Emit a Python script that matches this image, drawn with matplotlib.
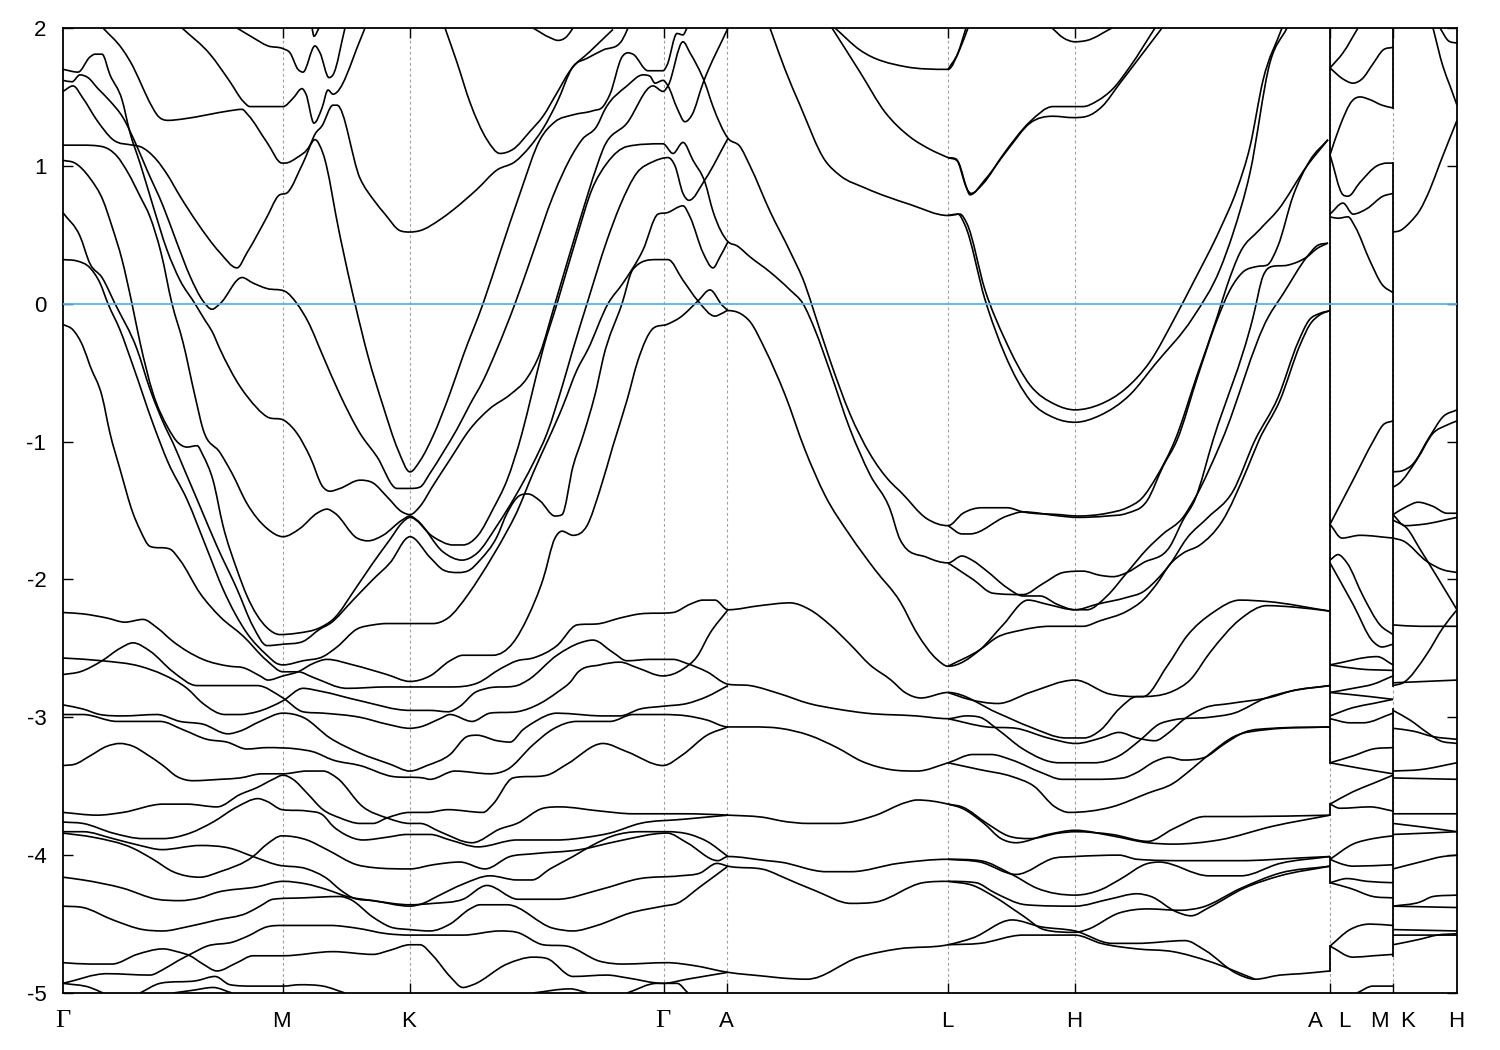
import matplotlib
matplotlib.use('Agg')
import matplotlib.pyplot as plt
from matplotlib.path import Path
from matplotlib.patches import PathPatch
from matplotlib.transforms import blended_transform_factory

# band energies (eV) as (k distance, energy)
# upper bands, gamma -> M -> K -> gamma -> A
b_top1 = [(40,2.0),(59,1.85),(67,1.76),(89,1.43),(94,1.37),(105,1.33),(120,1.34),(144,1.37),(167,1.40),(179,1.41),(185,1.37),(204,1.17),(219,1.02),(222,1.02),(234,1.06),(247,1.15),(252,1.23),(259,1.29),(270,1.44),(274,1.44),(297,0.91),(312,0.74),(322,0.65),(337,0.53),(347,0.52),(357,0.53),(377,0.61),(390,0.68),(414,0.83),(434,0.97),(452,1.03),(467,1.14),(480,1.27),(494,1.46),(510,1.72),(524,1.78),(540,1.84),(559,1.91),(565,2.0)]
b_top2 = [(119,2.0),(147,1.81),(167,1.61),(180,1.47),(187,1.43),(220,1.43),(230,1.49),(239,1.56),(243,1.52),(251,1.31),(259,1.42),(265,1.55),(270,1.52),(297,1.91),(302,2.0)]
b_top3 = [(174,2.0),(190,1.93),(205,1.87),(220,1.85),(227,1.82),(235,1.70),(240,1.68),(252,1.87),(257,1.82),(266,1.64),(270,1.66),(282,2.0)]
b_top4 = [(249,2.0),(251,1.94),(256,2.0)]
b_top5 = [(382,2.0),(394,1.75),(407,1.46),(424,1.19),(437,1.09),(450,1.12),(467,1.25),(480,1.36),(494,1.53),(507,1.69),(527,1.83),(550,1.99)]
b_top6 = [(470,2.0),(487,1.93),(495,1.91),(504,1.94),(510,2.0)]

b_g170 = [(0,1.70),(15,1.68),(27,1.79),(32,1.81),(39,1.81),(47,1.66),(59,1.48),(67,1.24),(77,1.02),(90,0.71),(104,0.39),(117,0.17),(132,0),(142,-0.12),(149,-0.20),(157,-0.33),(177,-0.60),(185,-0.68),(204,-0.82),(222,-0.85),(234,-0.94),(247,-1.11),(260,-1.33),(267,-1.36),(277,-1.34),(297,-1.28),(310,-1.30),(324,-1.40),(339,-1.51),(347,-1.53),(357,-1.47),(370,-1.32),(387,-1.13),(407,-0.91),(427,-0.76),(447,-0.66),(464,-0.54),(477,-0.36),(492,0),(517,0.61),(534,1.0),(540,1.12),(564,1.31),(590,1.58),(600,1.54),(605,1.58),(620,1.90),(627,1.82),(642,1.60),(650,1.43),(665,1.20),(677,1.14),(687,1.0),(707,0.67),(727,0.38),(742,0.14),(752,-0.08),(767,-0.41),(787,-0.80),(807,-1.09),(827,-1.29),(837,-1.36),(864,-1.56),(885,-1.61),(900,-1.52),(919,-1.48),(944,-1.48),(960,-1.51),(997,-1.53),(1014,-1.54),(1044,-1.52),(1064,-1.48),(1079,-1.41),(1094,-1.25),(1112,-0.99),(1134,-0.52),(1154,-0.10),(1164,0.13),(1177,0.37),(1197,0.54),(1215,0.68),(1244,1.0),(1265,1.19)]
b_g162 = [(0,1.62),(9,1.61),(17,1.66),(25,1.64),(35,1.56),(47,1.47),(60,1.35),(74,1.14),(84,0.97),(100,0.71),(114,0.44),(127,0.20),(140,0.02),(149,-0.04),(157,0),(179,0.19),(190,0.15),(204,0.11),(222,0.09),(234,0),(245,-0.13),(260,-0.38),(277,-0.66),(297,-0.94),(314,-1.11),(334,-1.34),(347,-1.34),(357,-1.33),(367,-1.23),(380,-1.08),(394,-0.91),(407,-0.73),(420,-0.56),(434,-0.33),(452,0),(470,0.37),(490,0.78),(510,1.09),(519,1.19),(534,1.29),(542,1.41),(564,1.58),(580,1.66),(587,1.65),(592,1.60),(600,1.62),(605,1.58),(614,1.42),(622,1.32),(629,1.37),(640,1.60),(665,2.0)]
b_g154 = [(0,1.54),(10,1.58),(20,1.49),(34,1.33),(50,1.19),(70,1.15),(77,1.14),(94,1.04),(104,0.94),(117,0.78),(134,0.59),(157,0.37),(174,0.26),(184,0.37),(204,0.63),(215,0.78),(225,0.81),(240,1.02),(252,1.19),(260,1.09),(277,0.49),(292,0),(305,-0.38),(320,-0.74),(335,-1.06),(347,-1.22),(357,-1.14),(370,-0.96),(387,-0.65),(400,-0.38),(420,0),(437,0.37),(457,0.80),(477,1.19),(492,1.32),(510,1.37),(530,1.40),(540,1.43),(547,1.52),(559,1.79),(565,1.82),(570,1.81),(585,1.69),(600,1.69),(604,1.73),(614,1.96),(620,1.95),(624,2.0)]
b_g115 = [(0,1.15),(19,1.15),(39,1.14),(54,1.07),(65,0.95),(77,0.78),(87,0.63),(98,0.37),(109,0),(120,-0.28),(132,-0.67),(140,-0.91),(157,-1.08),(169,-1.23),(184,-1.45),(204,-1.63),(220,-1.69),(237,-1.63),(254,-1.52),(264,-1.49),(272,-1.52),(294,-1.70),(305,-1.72),(320,-1.68),(339,-1.57),(347,-1.54),(354,-1.57),(380,-1.80),(399,-1.86),(414,-1.81),(434,-1.61),(452,-1.40),(470,-1.16),(484,-0.94),(500,-0.58),(510,-0.33),(524,0),(544,0.46),(557,0.71),(574,0.95),(590,1.03),(605,1.06),(612,1.0),(620,0.80),(626,0.75),(642,0.90),(665,1.20)]
b_g104 = [(0,1.04),(12,1.02),(27,0.91),(40,0.75),(49,0.56),(59,0.32),(69,0),(77,-0.28),(90,-0.65),(105,-0.90),(114,-1.0),(124,-1.04),(134,-1.03),(140,-1.10),(150,-1.28),(160,-1.61),(174,-1.93),(184,-2.12),(204,-2.35),(217,-2.40),(234,-2.39),(257,-2.35),(270,-2.29),(294,-2.05),(310,-1.88),(327,-1.71),(339,-1.59),(347,-1.55),(370,-1.69),(390,-1.75),(400,-1.75),(415,-1.68),(430,-1.49),(444,-1.28),(459,-0.94),(469,-0.65),(480,-0.33),(494,0),(514,0.49),(529,0.83),(544,1.02),(564,1.14),(600,1.16),(610,1.09),(620,1.17),(630,1.04),(642,0.88),(650,0.67),(665,0.45),(674,0.42),(687,0.34),(707,0.23),(727,0.10),(740,0),(752,-0.19),(767,-0.49),(787,-0.91),(807,-1.24),(827,-1.49),(837,-1.71),(864,-1.84),(885,-1.88),(899,-1.83),(909,-1.86),(924,-1.94),(944,-2.06),(960,-2.12),(977,-2.12),(994,-2.18),(1012,-2.22),(1024,-2.22),(1044,-2.12),(1064,-1.95),(1084,-1.78),(1100,-1.67),(1120,-1.55),(1132,-1.41),(1159,-0.99),(1205,-0.10),(1220,0.07),(1244,0.34),(1254,0.42),(1265,0.44)]
b_g066 = [(0,0.66),(17,0.49),(27,0.29),(39,0.19),(52,0),(74,-0.33),(87,-0.62),(102,-0.89),(110,-1.01),(120,-1.18),(137,-1.47),(154,-1.76),(174,-2.07),(190,-2.34),(204,-2.48),(220,-2.47),(240,-2.45),(257,-2.36),(267,-2.32),(290,-2.15),(310,-2.0),(327,-1.88),(347,-1.69),(367,-1.84),(380,-1.93),(395,-1.95),(407,-1.93),(417,-1.86),(434,-1.69),(444,-1.52),(457,-1.39),(465,-1.38),(477,-1.43),(492,-1.54),(499,-1.53),(510,-1.18),(520,-0.96),(534,-0.60),(540,-0.40),(559,0),(570,0.25),(594,0.32),(605,0.32),(620,0.17),(635,0.02),(652,-0.09),(659,-0.07),(665,-0.05),(677,-0.07),(687,-0.13),(702,-0.33),(722,-0.66),(742,-1.06),(762,-1.39),(787,-1.68),(812,-1.93),(837,-2.16),(854,-2.39),(874,-2.58),(885,-2.63),(917,-2.51),(940,-2.33),(965,-2.15),(984,-2.18),(1012,-2.22),(1034,-2.18),(1064,-2.13),(1080,-2.09),(1094,-2.0),(1107,-1.89),(1124,-1.70),(1145,-1.55),(1170,-1.36),(1192,-0.99),(1215,-0.68),(1235,-0.28),(1246,-0.12),(1257,-0.07),(1267,-0.05)]
b_g032 = [(0,0.32),(14,0.31),(27,0.26),(37,0.15),(45,0),(57,-0.19),(70,-0.45),(90,-0.87),(105,-1.15),(124,-1.42),(144,-1.78),(160,-2.07),(184,-2.39),(204,-2.55),(214,-2.61),(220,-2.62),(240,-2.59),(260,-2.56),(274,-2.49),(294,-2.36),(310,-2.33),(324,-2.32),(347,-2.32),(370,-2.32),(385,-2.28),(405,-2.11),(417,-1.98),(444,-1.65),(452,-1.54),(470,-1.23),(500,-0.74),(514,-0.48),(525,-0.33),(545,0),(560,0.15),(580,0.39),(595,0.65),(604,0.66),(620,0.71),(627,0.63),(640,0.37),(650,0.26),(657,0.34),(665,0.45)]
b_gm015 = [(0,-0.15),(10,-0.19),(20,-0.31),(27,-0.45),(39,-0.67),(47,-0.94),(57,-1.20),(70,-1.52),(77,-1.64),(87,-1.76),(107,-1.78),(117,-1.86),(137,-2.10),(157,-2.27),(180,-2.41),(204,-2.59),(220,-2.67),(235,-2.67),(250,-2.71),(284,-2.79),(324,-2.78),(347,-2.78),(387,-2.78),(415,-2.75),(437,-2.65),(454,-2.59),(470,-2.57),(494,-2.48),(514,-2.33),(537,-2.32),(557,-2.28),(577,-2.25),(610,-2.24),(627,-2.18),(640,-2.15),(652,-2.15),(665,-2.22),(697,-2.19),(727,-2.17),(747,-2.22),(767,-2.33),(787,-2.47),(807,-2.62),(828,-2.73),(842,-2.82),(858,-2.86),(885,-2.82),(935,-2.97),(967,-3.07),(1003,-3.15),(1021,-3.15),(1038,-3.09),(1056,-2.94),(1074,-2.85),(1080,-2.85),(1104,-2.63),(1124,-2.41),(1150,-2.24),(1177,-2.15),(1204,-2.16),(1267,-2.23)]

# lower bands, gamma -> M -> K -> gamma -> A
b_gm224 = [(0,-2.24),(20,-2.25),(44,-2.28),(62,-2.31),(80,-2.29),(94,-2.35),(110,-2.45),(124,-2.52),(140,-2.58),(167,-2.63),(180,-2.64),(197,-2.70),(205,-2.73),(220,-2.70),(235,-2.67),(250,-2.61),(264,-2.58),(290,-2.62),(324,-2.69),(347,-2.74),(367,-2.70),(387,-2.59),(400,-2.55),(430,-2.55),(450,-2.46),(465,-2.27),(480,-2.0),(492,-1.70),(499,-1.65),(510,-1.68),(524,-1.61),(537,-1.35),(550,-1.03),(564,-0.70),(575,-0.41),(590,-0.18),(604,-0.15),(617,-0.10),(635,0.02),(647,0.10),(659,-0.01),(665,-0.05)]
b_gm257 = [(0,-2.57),(39,-2.59),(77,-2.63),(100,-2.69),(124,-2.79),(140,-2.90),(162,-2.98),(177,-2.98),(194,-2.96),(220,-2.88),(240,-2.79),(257,-2.81),(297,-2.88),(347,-2.95),(367,-2.95),(385,-2.96),(397,-2.92),(412,-2.82),(424,-2.79),(454,-2.77),(465,-2.73),(494,-2.55),(517,-2.46),(530,-2.44),(550,-2.53),(564,-2.59),(587,-2.58),(610,-2.58),(624,-2.61),(644,-2.67),(665,-2.76),(687,-2.77),(717,-2.83),(746,-2.90),(774,-2.94),(803,-2.97),(853,-2.99),(885,-3.01),(903,-2.99),(917,-3.0),(935,-3.09),(960,-3.23),(996,-3.33),(1031,-3.33),(1056,-3.28),(1078,-3.16),(1096,-3.05),(1110,-3.02),(1146,-3.0),(1171,-2.97),(1203,-2.86),(1228,-2.81),(1267,-2.77)]
b_gm269 = [(0,-2.69),(17,-2.67),(39,-2.59),(57,-2.50),(70,-2.46),(87,-2.52),(110,-2.67),(134,-2.77),(194,-2.77),(220,-2.86),(240,-2.96),(260,-2.97),(297,-3.0),(324,-3.05),(347,-3.08),(357,-3.07),(377,-3.01),(387,-2.98),(409,-3.03),(427,-2.97),(454,-2.96),(477,-2.90),(494,-2.82),(509,-2.73),(514,-2.68),(537,-2.62),(557,-2.60),(574,-2.64),(600,-2.70),(620,-2.65),(634,-2.56),(647,-2.39),(665,-2.22)]
b_gm291 = [(0,-2.91),(20,-2.94),(37,-2.98),(60,-2.99),(94,-2.98),(117,-3.03),(140,-3.05),(165,-3.12),(177,-3.10),(197,-3.03),(220,-2.97),(240,-3.0),(267,-3.15),(297,-3.26),(327,-3.34),(347,-3.39),(364,-3.35),(387,-3.27),(404,-3.14),(414,-3.13),(434,-3.17),(447,-3.18),(460,-3.09),(470,-3.04),(494,-2.97),(517,-2.98),(537,-2.99),(557,-2.99),(577,-2.94),(600,-2.92),(624,-2.90),(644,-2.85),(665,-2.77)]
b_gm298 = [(0,-2.98),(20,-2.98),(54,-3.03),(97,-3.03),(120,-3.09),(144,-3.16),(164,-3.18),(184,-3.23),(204,-3.22),(234,-3.23),(250,-3.25),(270,-3.31),(297,-3.35),(330,-3.43),(360,-3.44),(367,-3.45),(392,-3.39),(427,-3.41),(444,-3.38),(470,-3.20),(489,-3.09),(514,-3.03),(547,-3.03),(570,-2.98),(600,-2.98),(624,-2.99),(644,-3.02),(665,-3.07),(690,-3.07),(717,-3.08),(746,-3.13),(774,-3.22),(799,-3.32),(828,-3.38),(854,-3.39),(885,-3.33),(910,-3.27),(928,-3.27),(949,-3.31),(978,-3.40),(999,-3.45),(1031,-3.45),(1060,-3.44),(1074,-3.40),(1092,-3.32),(1106,-3.29),(1120,-3.31),(1142,-3.29),(1160,-3.20),(1181,-3.11),(1210,-3.08),(1267,-3.07)]
b_gm335 = [(0,-3.35),(12,-3.34),(27,-3.28),(44,-3.21),(57,-3.19),(70,-3.21),(84,-3.27),(100,-3.35),(114,-3.43),(130,-3.46),(157,-3.45),(177,-3.44),(199,-3.41),(220,-3.41),(244,-3.39),(260,-3.39),(274,-3.44),(300,-3.65),(324,-3.73),(347,-3.77),(357,-3.77),(377,-3.83),(409,-3.91),(437,-3.81),(454,-3.77),(480,-3.66),(497,-3.65),(537,-3.68),(570,-3.70),(620,-3.70),(665,-3.71),(704,-3.73),(717,-3.75),(746,-3.77),(774,-3.77),(813,-3.71),(842,-3.62),(854,-3.60),(885,-3.63),(899,-3.66),(921,-3.77),(938,-3.88),(953,-3.91),(985,-3.85),(1012,-3.82),(1049,-3.86),(1085,-3.91),(1110,-3.92),(1156,-3.89),(1210,-3.79),(1267,-3.71)]
b_gm369 = [(0,-3.69),(34,-3.71),(60,-3.69),(100,-3.63),(124,-3.63),(154,-3.65),(177,-3.56),(194,-3.51),(210,-3.45),(220,-3.42),(230,-3.45),(244,-3.55),(260,-3.67),(277,-3.73),(297,-3.77),(310,-3.77),(324,-3.73),(347,-3.69),(364,-3.69),(385,-3.67),(420,-3.69),(430,-3.63),(450,-3.44),(484,-3.42),(504,-3.34),(540,-3.19),(564,-3.25),(600,-3.35),(620,-3.27),(644,-3.13),(665,-3.07)]
b_gm376 = [(0,-3.76),(20,-3.77),(50,-3.84),(80,-3.88),(100,-3.88),(127,-3.84),(150,-3.76),(174,-3.65),(195,-3.59),(204,-3.61),(219,-3.67),(244,-3.68),(260,-3.71),(270,-3.79),(282,-3.85),(300,-3.89),(324,-3.87),(344,-3.85),(367,-3.85),(387,-3.89),(415,-3.94),(454,-3.89),(494,-3.89),(524,-3.87),(547,-3.84),(577,-3.77),(620,-3.74),(665,-3.71)]
b_gm383 = [(0,-3.83),(20,-3.83),(50,-3.88),(77,-3.93),(99,-3.96),(137,-3.93),(167,-3.95),(190,-4.01),(214,-4.07),(244,-4.10),(264,-4.17),(277,-4.25),(290,-4.31),(310,-4.33),(347,-4.37),(360,-4.35),(374,-4.30),(400,-4.21),(427,-4.15),(454,-4.18),(469,-4.18),(487,-4.10),(510,-4.01),(529,-3.93),(550,-3.86),(577,-3.83),(604,-3.83),(627,-3.85),(644,-3.90),(665,-4.01)]
b_gm384 = [(0,-3.84),(30,-3.87),(70,-3.95),(90,-4.03),(110,-4.12),(137,-4.16),(157,-4.12),(190,-4.01),(204,-3.92),(219,-3.86),(244,-3.89),(264,-3.96),(294,-4.07),(310,-4.09),(347,-4.10),(370,-4.07),(397,-4.05),(422,-4.10),(447,-4.01),(470,-3.99),(517,-3.96),(554,-3.90),(604,-3.84),(624,-3.91),(655,-4.04),(665,-4.01),(704,-4.04),(717,-4.05),(763,-4.12),(788,-4.12),(835,-4.06),(885,-4.03),(917,-4.04),(949,-4.14),(974,-4.24),(1012,-4.29),(1038,-4.25),(1056,-4.18),(1085,-4.06),(1096,-4.05),(1146,-4.15),(1178,-4.15),(1217,-4.06),(1267,-4.01)]
b_gm416 = [(0,-4.16),(20,-4.18),(60,-4.24),(94,-4.32),(117,-4.33),(137,-4.31),(154,-4.27),(194,-4.23),(220,-4.19),(244,-4.21),(264,-4.25),(284,-4.30),(310,-4.33),(347,-4.36),(370,-4.35),(400,-4.32),(424,-4.22),(455,-4.32),(494,-4.32),(537,-4.25),(577,-4.17),(617,-4.15),(637,-4.13),(654,-4.06),(665,-4.08),(704,-4.11),(717,-4.15),(753,-4.26),(788,-4.35),(813,-4.34),(860,-4.20),(885,-4.19),(913,-4.20),(931,-4.27),(963,-4.36),(1012,-4.37),(1046,-4.32),(1074,-4.28),(1088,-4.30),(1113,-4.41),(1128,-4.44),(1146,-4.38),(1181,-4.24),(1217,-4.15),(1267,-4.08)]
b_gm437 = [(0,-4.37),(20,-4.38),(50,-4.47),(80,-4.54),(100,-4.55),(124,-4.52),(154,-4.47),(184,-4.42),(197,-4.37),(210,-4.32),(240,-4.31),(277,-4.30),(287,-4.32),(310,-4.45),(327,-4.52),(347,-4.54),(367,-4.55),(387,-4.50),(407,-4.39),(417,-4.36),(444,-4.36),(490,-4.53),(510,-4.55),(534,-4.51),(567,-4.42),(600,-4.37),(614,-4.35),(637,-4.23),(665,-4.08)]
b_gm478 = [(0,-4.78),(27,-4.79),(49,-4.79),(74,-4.72),(100,-4.68),(114,-4.70),(127,-4.73),(140,-4.79),(154,-4.84),(174,-4.78),(190,-4.73),(220,-4.73),(270,-4.70),(310,-4.72),(327,-4.69),(347,-4.65),(357,-4.65),(370,-4.73),(387,-4.88),(400,-4.96),(410,-4.94),(444,-4.79),(470,-4.74),(484,-4.75),(510,-4.88),(544,-4.87),(564,-4.89),(600,-4.93),(624,-4.90),(665,-4.85)]
b_gm493 = [(0,-4.93),(44,-4.86),(87,-4.87),(100,-4.83),(114,-4.77),(127,-4.72),(144,-4.66),(170,-4.63),(184,-4.59),(204,-4.52),(220,-4.51),(267,-4.51),(294,-4.53),(324,-4.57),(347,-4.58),(400,-4.58),(437,-4.55),(454,-4.56),(480,-4.65),(504,-4.66),(537,-4.77),(560,-4.79),(604,-4.78),(630,-4.80),(665,-4.85),(704,-4.88),(717,-4.89),(744,-4.90),(796,-4.74),(835,-4.68),(885,-4.65),(910,-4.60),(949,-4.47),(978,-4.52),(1012,-4.55),(1049,-4.64),(1074,-4.64),(1122,-4.62),(1142,-4.69),(1174,-4.86),(1192,-4.90),(1217,-4.87),(1238,-4.86),(1267,-4.84)]
b_low1 = [(0,-4.93),(27,-4.96),(40,-5.0)]
b_low2 = [(77,-5.0),(97,-4.93),(134,-4.91),(152,-4.88),(167,-4.94),(190,-4.95),(220,-4.95),(237,-4.94),(260,-4.95),(282,-5.0)]
b_low3 = [(110,-5.0),(130,-4.98),(150,-4.96),(169,-5.0)]
b_low4 = [(470,-5.0),(507,-4.97),(525,-5.0)]
b_low5 = [(564,-5.0),(594,-4.93),(614,-4.93),(625,-5.0)]

# A -> L -> H -> A bands that start further along
b_al1 = [(707,2.0),(722,1.70),(737,1.44),(762,1.04),(777,0.93),(802,0.84),(847,0.72),(885,0.64),(897,0.65),(904,0.58),(922,0.10),(942,-0.26),(967,-0.59),(992,-0.73),(1012,-0.77),(1037,-0.73),(1062,-0.62),(1087,-0.42),(1112,-0.10),(1130,0.15),(1157,0.54),(1174,0.83),(1187,1.14),(1200,1.62),(1219,2.0)]
b_al2 = [(885,0.64),(895,0.65),(902,0.57),(922,0.03),(942,-0.37),(967,-0.70),(992,-0.83),(1012,-0.86),(1037,-0.81),(1067,-0.66),(1092,-0.44),(1130,-0.10),(1157,0.25),(1170,0.51),(1187,0.95),(1207,1.75),(1224,2.0)]
b_al3 = [(769,2.0),(797,1.68),(822,1.39),(847,1.21),(867,1.12),(885,1.06),(895,1.03),(905,0.82),(908,0.80),(920,0.87),(940,1.08),(967,1.32),(990,1.43),(1020,1.43),(1034,1.47),(1050,1.56),(1067,1.72),(1092,2.0)]
b_al4 = [(885,1.06),(893,1.05),(903,0.85),(907,0.79),(922,0.90),(945,1.12),(967,1.31),(990,1.36),(1010,1.35),(1024,1.36),(1039,1.43),(1057,1.60),(1077,1.79),(1099,2.0)]
b_al5 = [(772,2.0),(797,1.84),(842,1.72),(885,1.70),(897,1.85),(905,2.0)]
b_al6 = [(885,1.70),(895,1.82),(903,2.0)]
b_al7 = [(989,2.0),(1000,1.93),(1012,1.90),(1024,1.91),(1049,2.0)]
b_al8 = [(885,-1.61),(899,-1.67),(907,-1.67),(944,-1.54),(960,-1.51),(997,-1.54),(1014,-1.55),(1044,-1.54),(1064,-1.52),(1084,-1.43),(1100,-1.18),(1114,-0.99),(1135,-0.52),(1155,-0.10),(1167,0.10),(1180,0.23),(1194,0.27),(1204,0.28),(1215,0.42),(1230,0.78),(1247,1.04),(1265,1.19)]
b_al9 = [(885,-1.88),(910,-2.0),(930,-2.10),(960,-2.11),(980,-2.03),(1000,-1.95),(1020,-1.94),(1037,-1.97),(1050,-1.98),(1064,-1.95),(1080,-1.88),(1107,-1.76),(1120,-1.57),(1132,-1.42),(1150,-0.99),(1190,-0.10),(1200,0.20),(1209,0.27),(1225,0.28),(1244,0.34),(1254,0.40),(1265,0.44)]
b_al10 = [(885,-2.63),(917,-2.51),(934,-2.42),(957,-2.37),(987,-2.34),(1020,-2.34),(1037,-2.30),(1064,-2.23),(1080,-2.15),(1094,-2.03),(1107,-1.89),(1120,-1.81),(1137,-1.75),(1159,-1.58),(1184,-1.20),(1196,-0.99),(1217,-0.70),(1237,-0.30),(1247,-0.15),(1257,-0.08),(1267,-0.05)]
b_al11 = [(885,-2.82),(906,-2.87),(935,-2.90),(967,-2.82),(1012,-2.73),(1046,-2.83),(1074,-2.85),(1110,-2.81),(1127,-2.73),(1147,-2.53),(1177,-2.29),(1204,-2.19),(1230,-2.20),(1267,-2.23)]
b_al12 = [(885,-3.01),(924,-3.07),(953,-3.08),(985,-3.15),(1013,-3.19),(1038,-3.15),(1056,-3.11),(1074,-3.15),(1092,-3.17),(1106,-3.11),(1120,-3.02),(1142,-2.93),(1167,-2.90),(1210,-2.85),(1228,-2.81),(1267,-2.77)]
b_al13 = [(885,-3.33),(917,-3.38),(949,-3.43),(971,-3.50),(992,-3.65),(1006,-3.69),(1049,-3.65),(1085,-3.55),(1110,-3.48),(1128,-3.38),(1146,-3.27),(1171,-3.14),(1203,-3.09),(1267,-3.07)]
b_al14 = [(885,-3.63),(899,-3.65),(924,-3.77),(945,-3.86),(967,-3.88),(996,-3.84),(1012,-3.83),(1049,-3.85),(1085,-3.90),(1110,-3.81),(1142,-3.72),(1181,-3.72),(1267,-3.71)]
b_al15 = [(885,-4.03),(917,-4.05),(953,-4.14),(992,-4.02),(1012,-4.01),(1056,-4.0),(1074,-4.03),(1124,-4.04),(1178,-4.04),(1238,-4.02),(1267,-4.01)]
b_al16 = [(885,-4.19),(910,-4.22),(931,-4.30),(960,-4.44),(981,-4.54),(1012,-4.56),(1024,-4.54),(1056,-4.42),(1085,-4.39),(1117,-4.40),(1138,-4.38),(1178,-4.24),(1217,-4.13),(1267,-4.08)]
b_al17 = [(885,-4.65),(917,-4.64),(960,-4.58),(996,-4.58),(1012,-4.58),(1038,-4.64),(1074,-4.68),(1110,-4.70),(1146,-4.77),(1192,-4.90)]

# L -> M panel
b_lm1 = [(1267,1.71),(1280,1.82),(1295,2.0)]
b_lm2 = [(1267,1.71),(1280,1.63),(1290,1.60),(1299,1.63),(1310,1.74),(1320,1.84),(1330,1.86)]
b_lm3 = [(1267,1.08),(1277,1.29),(1289,1.47),(1297,1.50),(1307,1.48),(1319,1.44),(1330,1.42)]
b_lm4 = [(1267,1.08),(1280,0.79),(1285,0.78),(1297,0.88),(1314,1.0),(1324,1.02),(1330,1.02)]
b_lm5 = [(1267,0.65),(1280,0.73),(1290,0.65),(1304,0.69),(1320,0.78),(1330,0.80)]
b_lm6 = [(1267,0.63),(1275,0.62),(1285,0.63),(1292,0.56),(1307,0.31),(1319,0.14),(1330,0.08)]
b_lm7 = [(1267,-1.60),(1290,-1.28),(1310,-1.0),(1320,-0.88),(1330,-0.85)]
b_lm8 = [(1267,-1.60),(1279,-1.70),(1297,-1.68),(1330,-1.70)]
b_lm9 = [(1267,-1.86),(1275,-1.82),(1284,-1.88),(1300,-2.12),(1317,-2.33),(1330,-2.40)]
b_lm10 = [(1267,-1.88),(1290,-2.18),(1310,-2.45),(1319,-2.49),(1330,-2.47)]
b_lm11 = [(1267,-2.62),(1314,-2.56),(1330,-2.62)]
b_lm12 = [(1267,-2.62),(1297,-2.65),(1330,-2.66)]
b_lm13 = [(1267,-2.82),(1290,-2.79),(1310,-2.76),(1330,-2.70)]
b_lm14 = [(1267,-2.82),(1307,-2.85),(1330,-2.87)]
b_lm15 = [(1267,-2.99),(1290,-2.93),(1310,-2.90),(1330,-2.87)]
b_lm16 = [(1267,-3.01),(1287,-3.04),(1300,-3.04),(1330,-2.97)]
b_lm17 = [(1267,-3.33),(1290,-3.28),(1310,-3.23),(1330,-3.22)]
b_lm18 = [(1267,-3.33),(1297,-3.37),(1330,-3.41)]
b_lm19 = [(1267,-3.63),(1290,-3.54),(1310,-3.48),(1330,-3.42)]
b_lm20 = [(1267,-3.63),(1277,-3.66),(1307,-3.65),(1330,-3.68)]
b_lm21 = [(1267,-4.03),(1290,-3.92),(1310,-3.88),(1330,-3.86)]
b_lm22 = [(1267,-4.03),(1277,-4.06),(1290,-4.08),(1330,-4.07)]
b_lm23 = [(1267,-4.20),(1284,-4.17),(1304,-4.19),(1330,-4.20)]
b_lm24 = [(1267,-4.20),(1287,-4.24),(1310,-4.30),(1330,-4.31)]
b_lm25 = [(1267,-4.66),(1287,-4.54),(1307,-4.50),(1330,-4.51)]
b_lm26 = [(1267,-4.66),(1290,-4.74),(1310,-4.73),(1330,-4.72)]
b_lm27 = [(1294,-5.0),(1310,-4.95),(1330,-4.95)]

# K -> H panel
b_kh1 = [(1330,0.52),(1337,0.53),(1347,0.59),(1357,0.68),(1367,0.83),(1377,1.02),(1394,1.33)]
b_kh2 = [(1370,2.0),(1380,1.72),(1387,1.58),(1394,1.44)]
b_kh3 = [(1377,2.0),(1385,1.91),(1394,1.89)]
b_kh4 = [(1330,-1.22),(1340,-1.21),(1349,-1.17),(1367,-0.96),(1380,-0.82),(1394,-0.77)]
b_kh5 = [(1330,-1.33),(1335,-1.31),(1354,-1.13),(1370,-0.94),(1384,-0.88),(1394,-0.85)]
b_kh6 = [(1330,-1.53),(1344,-1.47),(1355,-1.44),(1370,-1.47),(1384,-1.52),(1394,-1.52)]
b_kh7 = [(1330,-1.53),(1342,-1.61),(1360,-1.60),(1394,-1.55)]
b_kh8 = [(1330,-1.57),(1344,-1.63),(1357,-1.78),(1374,-1.98),(1394,-2.22)]
b_kh9 = [(1330,-1.70),(1340,-1.72),(1364,-1.87),(1380,-1.93),(1394,-1.95)]
b_kh10 = [(1330,-2.33),(1357,-2.34),(1394,-2.34)]
b_kh11 = [(1330,-2.77),(1340,-2.75),(1364,-2.54),(1380,-2.35),(1394,-2.22)]
b_kh12 = [(1330,-2.75),(1394,-2.73)]
b_kh13 = [(1330,-2.95),(1347,-3.02),(1364,-3.11),(1377,-3.17),(1394,-3.19)]
b_kh14 = [(1330,-3.08),(1350,-3.10),(1370,-3.14),(1394,-3.16)]
b_kh15 = [(1330,-3.39),(1357,-3.38),(1394,-3.33)]
b_kh16 = [(1330,-3.44),(1394,-3.45)]
b_kh17 = [(1330,-3.70),(1394,-3.70)]
b_kh18 = [(1330,-3.77),(1364,-3.80),(1394,-3.83)]
b_kh19 = [(1330,-3.85),(1364,-3.84),(1394,-3.83)]
b_kh20 = [(1330,-4.10),(1357,-4.05),(1380,-4.01),(1394,-4.00)]
b_kh21 = [(1330,-4.37),(1357,-4.34),(1370,-4.30),(1394,-4.29)]
b_kh22 = [(1330,-4.37),(1394,-4.38)]
b_kh23 = [(1330,-4.54),(1394,-4.55)]
b_kh24 = [(1330,-4.58),(1394,-4.58)]
b_kh25 = [(1330,-4.65),(1357,-4.61),(1374,-4.58),(1394,-4.57)]

# vertical jumps where the path breaks at A|L and M|K
jumps_al = [(2.0,-3.33),(-3.63,-3.71),(-4.01,-4.20),(-4.66,-4.84)]
jumps_mk = [(2.0,1.42),(1.02,-2.77),(-2.94,-4.73)]

node_k = [0,220,347,601,664,885,1012,1267,1330,1394]
tick_k = [220,347,601,664,885,1012,1267,1330]
label_k = [0,218,346,600,663,884,1011,1252,1281,1316,1345,1393]
label_txt = ['Γ','M','K','Γ','A','L','H','A','L','M','K','H']
y_ticks = [2,1,0,-1,-2,-3,-4,-5]

bands = [v for n, v in list(globals().items()) if n.startswith('b_')]


def band_path(band):
    #smooth curve through every read point, no overshoot at extrema
    ks = [p[0] for p in band]
    es = [p[1] for p in band]
    n = len(band)
    slopes = []
    for i in range(n):
        if i == 0:
            slopes.append((es[1]-es[0])/(ks[1]-ks[0]))
        elif i == n-1:
            slopes.append((es[i]-es[i-1])/(ks[i]-ks[i-1]))
        else:
            h0 = ks[i]-ks[i-1]
            h1 = ks[i+1]-ks[i]
            s0 = (es[i]-es[i-1])/h0
            s1 = (es[i+1]-es[i])/h1
            if s0*s1 <= 0:
                slopes.append(0.0)
            else:
                m = (s0*h1+s1*h0)/(h0+h1)
                lim = 3*min(abs(s0), abs(s1))
                slopes.append(max(-lim, min(lim, m)))
    verts = [(ks[0], es[0])]
    codes = [Path.MOVETO]
    for i in range(n-1):
        h = ks[i+1]-ks[i]
        verts += [(ks[i]+h/3, es[i]+slopes[i]*h/3), (ks[i+1]-h/3, es[i+1]-slopes[i+1]*h/3), (ks[i+1], es[i+1])]
        codes += [Path.CURVE4, Path.CURVE4, Path.CURVE4]
    return Path(verts, codes)


fig = plt.figure(figsize=(15, 10.5), dpi=100)
ax = fig.add_axes([63/1500, 1-993/1050, (1457-63)/1500, (993-28)/1050])

for k in node_k[1:-1]:
    ax.axvline(k, color='#a0a0a0', lw=0.8, ls=(0, (2.5, 2.5)), zorder=1)

for band in bands:
    ax.add_patch(PathPatch(band_path(band), fill=False, edgecolor='black', lw=1.2, zorder=2))

for lo, hi in jumps_al:
    ax.plot([1267, 1267], [lo, hi], color='black', lw=1.3, zorder=2)
for lo, hi in jumps_mk:
    ax.plot([1330, 1330], [lo, hi], color='black', lw=1.3, zorder=2)

ax.axhline(0, color='#56b4e9', lw=1.3, zorder=3)

ax.set_xlim(0, 1394)
ax.set_ylim(-5, 2)
ax.set_xticks(tick_k)
ax.set_xticklabels([])
ax.set_yticks(y_ticks)
ax.set_yticklabels([str(v) for v in y_ticks], family='Liberation Sans', fontsize=16)
ax.tick_params(axis='both', direction='in', top=True, right=True, length=7.5, width=1.0, pad=12)
for s in ax.spines.values():
    s.set_linewidth(1.3)

trans = blended_transform_factory(ax.transData, ax.transAxes)
for k, t in zip(label_k, label_txt):
    if t == 'Γ':
        ax.text(k, -0.0352, t, transform=trans, ha='center', va='baseline', fontsize=19, family='Liberation Serif')
    else:
        ax.text(k, -0.0352, t, transform=trans, ha='center', va='baseline', fontsize=16, family='Liberation Sans')

fig.savefig('out.png', dpi=100)
